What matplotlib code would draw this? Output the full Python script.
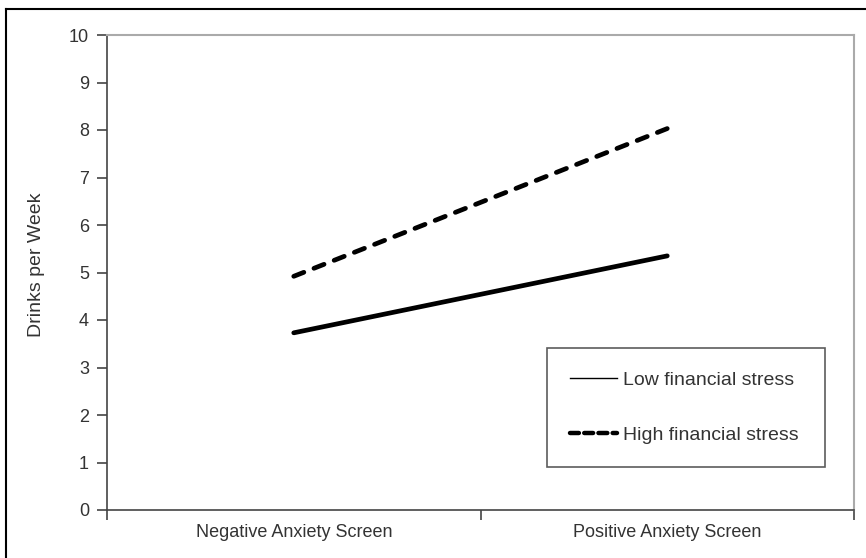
import matplotlib.pyplot as plt
from matplotlib.lines import Line2D

plt.rcParams["font.family"] = ["Liberation Sans", "DejaVu Sans"]

# data
screens = ["Negative Anxiety Screen", "Positive Anxiety Screen"]
low_stress = [3.73, 5.35]
high_stress = [4.92, 8.03]
series_names = ["Low financial stress", "High financial stress"]

fig = plt.figure(figsize=(8.66, 5.58), dpi=100)
ax = fig.add_axes([107 / 866, 48 / 558, (854 - 107) / 866, (510 - 35) / 558])

x = [0.5, 1.5]
ax.plot(x, low_stress, color="black", lw=3.4, solid_capstyle="round")
ax.plot(x, high_stress, color="black", lw=3.4, dashes=(2.3, 2.3),
        dash_capstyle="round")

ax.set_xlim(0, 2)
ax.set_ylim(0, 10)
ax.set_yticks(range(0, 11))
ax.set_xticks(x)
ax.set_xticklabels(screens)
ax.set_xticks([0, 1, 2], minor=True)
ax.tick_params(axis="x", which="major", length=0, pad=10, labelsize=13,
               labelcolor="#333333")
ax.tick_params(axis="x", which="minor", length=7, width=1.2, color="#444444")
ax.tick_params(axis="y", length=7, width=1.2, color="#444444", labelsize=13,
               labelcolor="#333333", pad=6)
ax.set_ylabel("Drinks per Week", fontsize=14, color="#333333")
ax.yaxis.set_label_coords(-0.083, 0.517)

for side in ["left", "bottom"]:
    ax.spines[side].set_color("#444444")
    ax.spines[side].set_linewidth(1.2)
for side in ["top", "right"]:
    ax.spines[side].set_color("#aaaaaa")
    ax.spines[side].set_linewidth(1.5)

handles = [
    Line2D([], [], color="black", lw=1.0),
    Line2D([], [], color="black", lw=3.2, dashes=(2.0, 1.2), dash_capstyle="round"),
]
leg = ax.legend(handles, series_names, loc="lower left",
                bbox_to_anchor=((547 - 107) / 747, (510 - 467) / 475,
                                (825 - 547) / 747, (467 - 348) / 475),
                mode="expand", fontsize=14, frameon=True, fancybox=False,
                handlelength=2.4, handletextpad=0.3, labelspacing=1.9,
                borderpad=1.2, borderaxespad=0)
leg.get_frame().set_edgecolor("#333333")
leg.get_frame().set_linewidth(1.2)
for t in leg.get_texts():
    t.set_color("#333333")

# outer figure border (left and top visible)
fig.add_artist(Line2D([6 / 866, 6 / 866], [0, 1 - 9 / 558], color="black",
                      lw=1.5, transform=fig.transFigure))
fig.add_artist(Line2D([6 / 866, 1], [1 - 9 / 558, 1 - 9 / 558], color="black",
                      lw=1.5, transform=fig.transFigure))

plt.savefig("out.png", dpi=100)
